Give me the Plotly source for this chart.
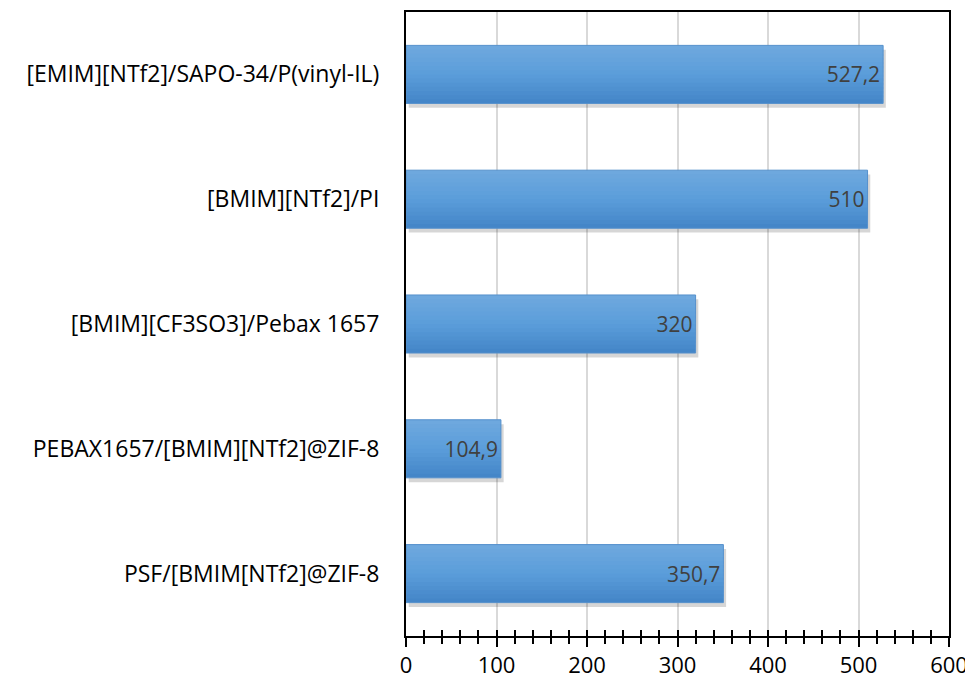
import plotly.graph_objects as go

categories = [
    "[EMIM][NTf2]/SAPO-34/P(vinyl-IL)",
    "[BMIM][NTf2]/PI",
    "[BMIM][CF3SO3]/Pebax 1657",
    "PEBAX1657/[BMIM][NTf2]@ZIF-8",
    "PSF/[BMIM[NTf2]@ZIF-8",
]
values = [527.2, 510, 320, 104.9, 350.7]
labels = [f"{v:g}".replace(".", ",") for v in values]
xticks = [0, 100, 200, 300, 400, 500, 600]

FONT = "Open Sans, Liberation Sans, Arial, sans-serif"
BW = 0.465
N_BANDS = 14
TOP_RGB = (110, 168, 222)
MID_RGB = (91, 157, 218)
BOT_RGB = (68, 134, 200)

def band_color(t):
    if t < 0.5:
        a, b, u = TOP_RGB, MID_RGB, t / 0.5
    else:
        a, b, u = MID_RGB, BOT_RGB, (t - 0.5) / 0.5
    return "rgb(%d,%d,%d)" % tuple(round(a[k] + (b[k] - a[k]) * u) for k in range(3))

fig = go.Figure()
# soft drop shadow
fig.add_trace(go.Bar(
    y=categories, x=values, orientation="h", base=3,
    width=BW, offset=-BW / 2 + 0.035,
    marker=dict(color="rgba(0,0,0,0.16)", line=dict(width=0)),
    hoverinfo="skip",
))
# vertical gradient fill, drawn as thin overlapping bands
bh = BW / N_BANDS
for i in range(N_BANDS):
    fig.add_trace(go.Bar(
        y=categories, x=values, orientation="h",
        width=bh * 1.6 if i < N_BANDS - 1 else bh, offset=-BW / 2 + i * bh,
        marker=dict(color=band_color(i / (N_BANDS - 1)), line=dict(width=0)),
        hoverinfo="skip",
    ))
# outline + labels
fig.add_trace(go.Bar(
    y=categories, x=values, orientation="h",
    width=BW, offset=-BW / 2,
    marker=dict(color="rgba(0,0,0,0)", line=dict(color="#5590CC", width=1)),
    text=labels, textposition="inside", insidetextanchor="end",
    textfont=dict(family=FONT, size=21, color="#404040"),
    hoverinfo="skip",
))
fig.add_trace(go.Scatter(x=[0, 600], y=[categories[0], categories[0]], xaxis="x2",
                         mode="markers", marker=dict(opacity=0), hoverinfo="skip",
                         showlegend=False))

fig.update_layout(
    width=965, height=671,
    margin=dict(l=398, r=24, t=4, b=43, autoexpand=False),
    paper_bgcolor="white", plot_bgcolor="white",
    showlegend=False, barmode="overlay",
    font=dict(family=FONT, size=22, color="black"),
    xaxis=dict(
        range=[0, 600], tickvals=xticks, automargin=False,
        showgrid=True, gridcolor="#D9D9D9", gridwidth=1.5,
        showline=True, linecolor="black", linewidth=2, mirror=True,
        ticks="outside", ticklen=9, tickwidth=1.5, tickcolor="black",
        minor=dict(dtick=20, ticks="outside", ticklen=6, tickwidth=1.5, tickcolor="black", showgrid=False),
        tickfont=dict(family=FONT, size=22, color="black"),
        ticklabelstandoff=0,
        zeroline=False, fixedrange=True,
    ),
    xaxis2=dict(
        range=[0, 600], overlaying="x", anchor="y", side="bottom", automargin=False,
        tickvals=xticks, showticklabels=False,
        ticks="inside", ticklen=6, tickwidth=1.5, tickcolor="black",
        minor=dict(dtick=20, ticks="inside", ticklen=6, tickwidth=1.5, tickcolor="black", showgrid=False),
        showgrid=False, showline=False, zeroline=False,
    ),
    yaxis=dict(
        autorange="reversed", automargin=False,
        showline=True, linecolor="black", linewidth=2, mirror=True,
        ticks="", showgrid=False,
        tickfont=dict(family=FONT, size=23, color="black"),
        ticklabelstandoff=20,
    ),
)

fig.write_html("out.html")
